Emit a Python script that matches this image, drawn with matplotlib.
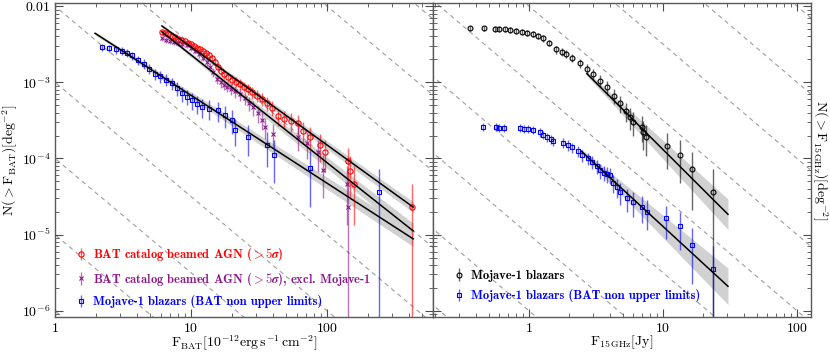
import numpy as np
import matplotlib
matplotlib.use("Agg")
import matplotlib.pyplot as plt
from matplotlib.ticker import FixedLocator, LogLocator, NullFormatter, FuncFormatter

plt.rcParams['mathtext.fontset'] = 'cm'
plt.rcParams['font.family'] = 'serif'
plt.rcParams['font.serif'] = ['cmr10', 'DejaVu Serif']
plt.rcParams['axes.unicode_minus'] = False

# ---------------------------------------------------------------
# Data: cumulative source counts N(>F)
# ---------------------------------------------------------------
# BAT catalog beamed AGN (>5 sigma)
bat_f = [6.1, 6.4, 6.8, 7.2, 7.6, 8.0, 8.5, 9.0, 9.5, 10.0, 10.5, 11.0, 11.6,
         12.2, 12.8, 13.5, 14.3, 15.0, 15.8, 16.6, 17.6, 18.7, 20.0, 21.3,
         22.8, 24.4, 26.2, 28.2, 30.5, 33, 36, 39.5, 43.6, 48, 54, 61, 66, 75,
         89, 97, 142, 147, 158, 422]
bat_n = [4.6e-3, 4.45e-3, 4.25e-3, 4.05e-3, 3.9e-3, 3.75e-3, 3.6e-3, 3.45e-3,
         3.3e-3, 3.15e-3, 3.0e-3, 2.85e-3, 2.7e-3, 2.55e-3, 2.4e-3, 2.25e-3,
         2.07e-3, 1.85e-3, 1.6e-3, 1.42e-3, 1.28e-3, 1.16e-3, 1.08e-3, 1.02e-3,
         9.5e-4, 8.8e-4, 8.1e-4, 7.4e-4, 6.7e-4, 6.0e-4, 5.3e-4, 4.6e-4, 3.6e-4,
         3.3e-4, 3.1e-4, 2.9e-4, 2.3e-4, 1.9e-4, 1.5e-4, 1.2e-4, 9.3e-5, 6.9e-5,
         4.6e-5, 2.3e-5]
bat_unit = 2.3e-5

# BAT catalog beamed AGN (>5 sigma), excluding Mojave-1
batx_f = [6.1, 6.5, 7.0, 7.5, 8.0, 8.6, 9.3, 10.0, 10.7, 11.4, 12.2, 13.0, 13.8,
          14.6, 15.5, 16.5, 17.5, 18.5, 19.8, 21.2, 22.9, 24.8, 26.8, 28.6, 31,
          33, 35, 40, 61, 71, 86, 93, 140, 142]
batx_n = [3.8e-3, 3.6e-3, 3.45e-3, 3.35e-3, 3.25e-3, 3.15e-3, 3.05e-3, 2.85e-3,
          2.6e-3, 2.35e-3, 2.1e-3, 1.85e-3, 1.6e-3, 1.35e-3, 1.12e-3, 1.0e-3,
          9.3e-4, 8.8e-4, 8.2e-4, 7.6e-4, 7.0e-4, 6.2e-4, 5.3e-4, 4.7e-4, 3.9e-4,
          3.2e-4, 2.6e-4, 2.1e-4, 1.9e-4, 1.6e-4, 1.2e-4, 7.0e-5, 4.6e-5, 2.3e-5]
batx_unit = 2.3e-5

# Mojave-1 blazars (BAT non upper limits), BAT flux
mojb_f = [2.2, 2.5, 2.8, 3.1, 3.4, 3.7, 4.1, 4.5, 4.9, 5.4, 5.9, 6.5, 7.2, 7.9,
          8.6, 9.4, 10.2, 11.0, 12.0, 13.5, 15.8, 17.8, 20, 21, 26, 36, 41, 75,
          240]
mojb_n = [2.9e-3, 2.8e-3, 2.7e-3, 2.6e-3, 2.45e-3, 2.25e-3, 1.95e-3, 1.75e-3,
          1.5e-3, 1.3e-3, 1.2e-3, 1.08e-3, 9.7e-4, 8.4e-4, 7.2e-4, 6.5e-4,
          5.8e-4, 5.2e-4, 4.7e-4, 4.5e-4, 4.3e-4, 3.7e-4, 3.2e-4, 2.4e-4,
          1.9e-4, 1.5e-4, 1.1e-4, 7.5e-5, 3.6e-5]
mojb_unit = 3.6e-5

# Mojave-1 blazars, 15 GHz flux
moj_f = [0.36, 0.46, 0.56, 0.60, 0.66, 0.72, 0.80, 0.88, 0.97, 1.07, 1.17, 1.27,
         1.4, 1.6, 1.75, 1.9, 2.1, 2.4, 2.7, 3.0, 3.4, 3.8, 4.3, 4.8, 5.3, 5.7,
         6.0, 7.0, 7.1, 7.5, 10.7, 13.4, 16.4, 23.6]
moj_n = [5.1e-3, 5.1e-3, 5.05e-3, 5.0e-3, 4.95e-3, 4.85e-3, 4.75e-3, 4.6e-3,
         4.5e-3, 4.35e-3, 4.1e-3, 3.8e-3, 3.3e-3, 2.7e-3, 2.5e-3, 2.35e-3,
         2.1e-3, 1.8e-3, 1.5e-3, 1.3e-3, 1.05e-3, 8.6e-4, 6.7e-4, 5.3e-4,
         4.2e-4, 3.5e-4, 3.0e-4, 2.6e-4, 2.2e-4, 1.9e-4, 1.45e-4, 1.1e-4,
         7.2e-5, 3.6e-5]
moj_unit = 3.6e-5

# Mojave-1 blazars (BAT non upper limits), 15 GHz flux
mojr_f = [0.45, 0.57, 0.60, 0.65, 0.86, 0.92, 0.98, 1.07, 1.2, 1.28, 1.36, 1.45,
          1.5, 1.8, 1.95, 2.1, 2.3, 2.5, 2.75, 2.95, 3.2, 3.4, 3.6, 3.8, 4.0,
          4.2, 4.5, 4.8, 5.4, 6.0, 7.0, 7.6, 10.5, 13.4, 16.4, 23.6]
mojr_n = [2.6e-4, 2.6e-4, 2.55e-4, 2.55e-4, 2.5e-4, 2.45e-4, 2.45e-4, 2.4e-4,
          2.2e-4, 2.05e-4, 1.9e-4, 1.8e-4, 1.7e-4, 1.6e-4, 1.5e-4, 1.4e-4,
          1.25e-4, 1.1e-4, 1.0e-4, 9.0e-5, 8.0e-5, 7.0e-5, 6.5e-5, 6.2e-5,
          6.1e-5, 4.8e-5, 4.2e-5, 3.6e-5, 3.0e-5, 2.7e-5, 2.3e-5, 2.0e-5,
          1.65e-5, 1.3e-5, 7.3e-6, 3.5e-6]
mojr_unit = 3.5e-6

# power-law fits: (flux range, N at ends, band half-width in dex at ends)
fit_bat = ([6.1, 429], [5.5e-3, 2.3e-5], [0.02, 0.07])
fit_batx = ([6.1, 429], [4.6e-3, 1.12e-5], [0.02, 0.10])
fit_mojb = ([1.97, 429], [4.4e-3, 8.8e-6], [0.02, 0.10])
fit_moj = ([2.7, 30.5], [1.3e-3, 1.85e-5], [0.03, 0.20])
fit_mojr = ([2.45, 30.5], [1.25e-4, 2.1e-6], [0.03, 0.24])

# Euclidean reference lines N = 10^k F^-1.5
eucl_k = np.arange(-9, 3)

PURPLE = "#8b1a8b"
SIG = r"($\mathbf{>5}\boldsymbol{\sigma}$)"


def draw_counts(ax, f, n, unit, color, marker, label, ms=3.8):
    f = np.asarray(f)
    n = np.asarray(n)
    err = np.sqrt(n * unit)
    lo = np.minimum(err, n * 0.99999)
    eb = ax.errorbar(f, n, yerr=[lo, err], fmt=marker, color=color, mfc="none",
                     mec=color, ms=ms, mew=0.8, ecolor=color, elinewidth=1.0,
                     capsize=0, label=label, zorder=2)
    for lc in eb[2]:
        lc.set_alpha(0.6)
    return eb


def draw_fit(ax, fit):
    fr, nr, wr = fit
    lf = np.linspace(np.log10(fr[0]), np.log10(fr[1]), 60)
    ln = np.interp(lf, np.log10(fr), np.log10(nr))
    w = np.interp(lf, np.log10(fr), wr)
    ax.fill_between(10 ** lf, 10 ** (ln - w), 10 ** (ln + w), color="0.82",
                    lw=0, zorder=1)
    ax.plot(10 ** lf, 10 ** ln, color="black", lw=1.1, zorder=3)


def draw_eucl(ax):
    ff = np.logspace(-1.5, 3.5, 2)
    for k in eucl_k:
        ax.plot(ff, 10.0 ** k * ff ** -1.5, color="0.62", lw=0.8,
                dashes=(4, 3.5), zorder=0)


def sci(v, pos):
    if abs(v - 0.01) < 1e-9:
        return r"$\mathbf{0.01}$"
    e = int(round(np.log10(v)))
    return r"$\mathbf{10^{%d}}$" % e


def plain(v, pos):
    return r"$\mathbf{%d}$" % int(round(v))


fig = plt.figure(figsize=(8.3, 3.53), dpi=100)
ax1 = fig.add_axes([0.0663, 0.102, 0.4554, 0.8895])
ax2 = fig.add_axes([0.5217, 0.102, 0.4554, 0.8895])

for ax in (ax1, ax2):
    ax.set_xscale("log")
    ax.set_yscale("log")
    draw_eucl(ax)
    ax.set_ylim(8.3e-7, 0.011)
    ax.yaxis.set_major_locator(FixedLocator([1e-6, 1e-5, 1e-4, 1e-3, 1e-2]))
    ax.yaxis.set_minor_locator(LogLocator(base=10, subs=np.arange(2, 10)))
    ax.yaxis.set_minor_formatter(NullFormatter())
    ax.xaxis.set_major_locator(FixedLocator([1, 10, 100]))
    ax.xaxis.set_minor_locator(LogLocator(base=10, subs=np.arange(2, 10)))
    ax.xaxis.set_minor_formatter(NullFormatter())
    ax.xaxis.set_major_formatter(FuncFormatter(plain))
    ax.tick_params(which="both", direction="in", top=True, right=True,
                   left=True, color="0.3", labelsize=10)
    ax.tick_params(which="major", length=6, width=0.8)
    ax.tick_params(which="minor", length=3, width=0.6)
    ax.tick_params(axis="x", pad=3.5)
    for s in ax.spines.values():
        s.set_color("0.35")
        s.set_linewidth(1.0)

ax1.set_xlim(1, 600)
ax2.set_xlim(0.192, 127)
ax1.yaxis.set_major_formatter(FuncFormatter(sci))
ax2.tick_params(labelleft=False)

leg_kw = dict(loc="upper left", frameon=False,
              prop={"family": "cmb10", "size": 9.0}, handlelength=0.9,
              handletextpad=0.5, labelspacing=0.6, borderaxespad=0,
              borderpad=0)

# left panel
for fit in (fit_bat, fit_batx, fit_mojb):
    draw_fit(ax1, fit)
h1 = draw_counts(ax1, bat_f, bat_n, bat_unit, "red", "o",
                 "BAT catalog beamed AGN " + SIG)
h2 = draw_counts(ax1, batx_f, batx_n, batx_unit, PURPLE, "x",
                 "BAT catalog beamed AGN " + SIG + ", excl. Mojave-1", ms=3.3)
h3 = draw_counts(ax1, mojb_f, mojb_n, mojb_unit, "blue", "s",
                 "Mojave-1 blazars (BAT non upper limits)", ms=3.3)

ax1.set_xlabel(r"$\mathrm{F_{BAT}[10^{-12}erg\,s^{-1}\,cm^{-2}]}$", fontsize=10,
               labelpad=-1)
ax1.set_ylabel(r"$\mathrm{N(>F_{BAT})[deg^{-2}]}$", fontsize=10, labelpad=1)

leg1 = ax1.legend(handles=[h1, h2, h3], bbox_to_anchor=(0.055, 0.225),
                  **leg_kw)
for t, c in zip(leg1.get_texts(), ["red", PURPLE, "blue"]):
    t.set_color(c)

# right panel
for fit in (fit_moj, fit_mojr):
    draw_fit(ax2, fit)
g1 = draw_counts(ax2, moj_f, moj_n, moj_unit, "black", "o", "Mojave-1 blazars",
                 ms=3.5)
g2 = draw_counts(ax2, mojr_f, mojr_n, mojr_unit, "blue", "s",
                 "Mojave-1 blazars (BAT non upper limits)", ms=3.3)

ax2.set_xlabel(r"$\mathrm{F_{15\,GHz}[Jy]}$", fontsize=10, labelpad=-1)
ax2.yaxis.set_label_position("right")
ax2.set_ylabel(r"$\mathrm{N(>F_{15\,GHz})[deg^{-2}]}$", fontsize=10,
               rotation=270, labelpad=13)

leg2 = ax2.legend(handles=[g1, g2], bbox_to_anchor=(0.055, 0.15), **leg_kw)
for t, c in zip(leg2.get_texts(), ["black", "blue"]):
    t.set_color(c)

fig.savefig("out.png", dpi=100)
